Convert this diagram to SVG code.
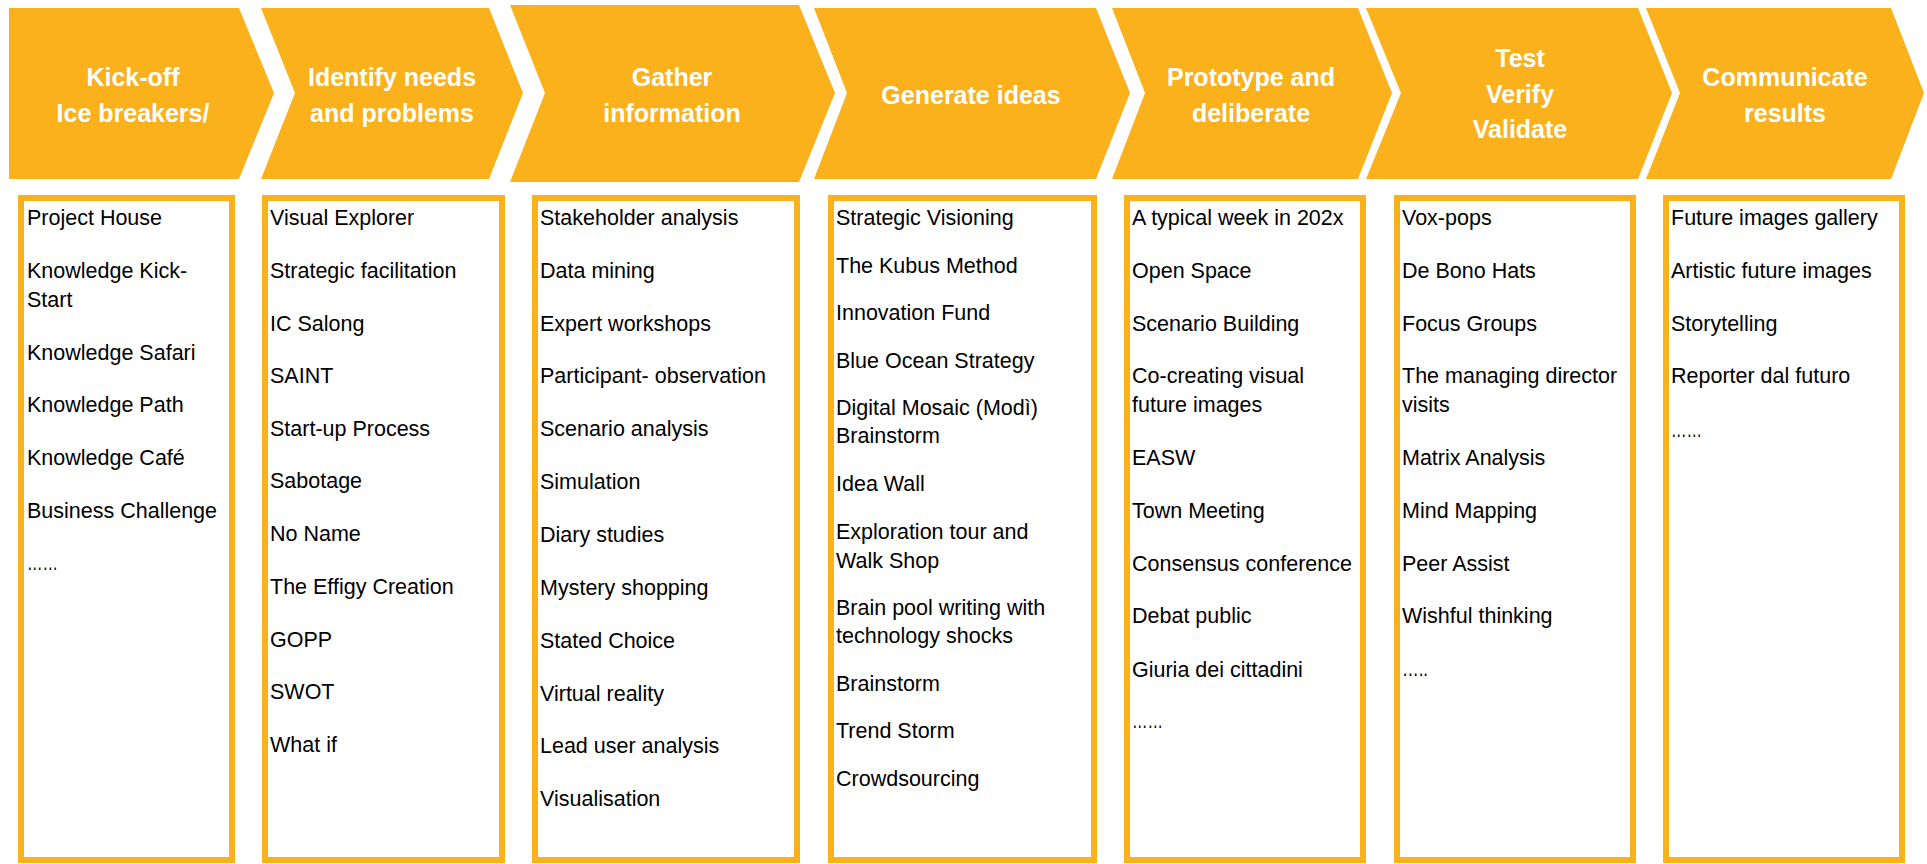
<svg xmlns="http://www.w3.org/2000/svg" width="1927" height="864" viewBox="0 0 1927 864">
<style>
.chev{fill:#FBB11B;}
.hd{font-family:"Liberation Sans",Arial,sans-serif;font-weight:bold;font-size:25px;fill:#FFFFFF;text-anchor:middle;}
.box{fill:#FFFFFF;stroke:#FBB11B;stroke-width:6;}
.it{font-family:"Liberation Sans",Arial,sans-serif;font-size:21.5px;fill:#000000;}
</style>
<rect width="1927" height="864" fill="#FFFFFF"/>
<g id="stage1">
<polygon class="chev" points="9,8 239,8 274,93 239,179 9,179"/>
<text class="hd" x="133" y="86">Kick-off</text>
<text class="hd" x="133" y="122">Ice breakers/</text>
</g>
<g id="stage2">
<polygon class="chev" points="261,8 489,8 523,93 489,179 261,179 295,93"/>
<text class="hd" x="392" y="86">Identify needs</text>
<text class="hd" x="392" y="122">and problems</text>
</g>
<g id="stage3">
<polygon class="chev" points="510,5 799,5 835,93 799,182 510,182 545,93"/>
<text class="hd" x="672" y="86">Gather</text>
<text class="hd" x="672" y="122">information</text>
</g>
<g id="stage4">
<polygon class="chev" points="814,8 1096,8 1130,93 1096,179 814,179 847,93"/>
<text class="hd" x="971" y="104">Generate ideas</text>
</g>
<g id="stage5">
<polygon class="chev" points="1112,8 1358,8 1392,93 1358,179 1112,179 1145,93"/>
<text class="hd" x="1251" y="86">Prototype and</text>
<text class="hd" x="1251" y="122">deliberate</text>
</g>
<g id="stage6">
<polygon class="chev" points="1366,8 1638,8 1672,93 1638,179 1366,179 1401,93"/>
<text class="hd" x="1520" y="67">Test</text>
<text class="hd" x="1520" y="103">Verify</text>
<text class="hd" x="1520" y="138">Validate</text>
</g>
<g id="stage7">
<polygon class="chev" points="1646,8 1891,8 1924,93 1891,179 1646,179 1680,93"/>
<text class="hd" x="1785" y="86">Communicate</text>
<text class="hd" x="1785" y="122">results</text>
</g>
<g id="list1">
<rect class="box" x="21" y="198" width="211" height="662"/>
<text class="it" x="27" y="225">Project House</text>
<text class="it" x="27" y="278">Knowledge Kick-</text>
<text class="it" x="27" y="307">Start</text>
<text class="it" x="27" y="360">Knowledge Safari</text>
<text class="it" x="27" y="412">Knowledge Path</text>
<text class="it" x="27" y="465">Knowledge Café</text>
<text class="it" x="27" y="518">Business Challenge</text>
<text class="it" x="27" y="570" textLength="31" lengthAdjust="spacingAndGlyphs">……</text>
</g>
<g id="list2">
<rect class="box" x="265" y="198" width="237" height="662"/>
<text class="it" x="270" y="225">Visual Explorer</text>
<text class="it" x="270" y="278">Strategic facilitation</text>
<text class="it" x="270" y="331">IC Salong</text>
<text class="it" x="270" y="383">SAINT</text>
<text class="it" x="270" y="436">Start-up Process</text>
<text class="it" x="270" y="488">Sabotage</text>
<text class="it" x="270" y="541">No Name</text>
<text class="it" x="270" y="594">The Effigy Creation</text>
<text class="it" x="270" y="647">GOPP</text>
<text class="it" x="270" y="699">SWOT</text>
<text class="it" x="270" y="752">What if</text>
</g>
<g id="list3">
<rect class="box" x="535" y="198" width="262" height="662"/>
<text class="it" x="540" y="225">Stakeholder analysis</text>
<text class="it" x="540" y="278">Data mining</text>
<text class="it" x="540" y="331">Expert workshops</text>
<text class="it" x="540" y="383">Participant- observation</text>
<text class="it" x="540" y="436">Scenario analysis</text>
<text class="it" x="540" y="489">Simulation</text>
<text class="it" x="540" y="542">Diary studies</text>
<text class="it" x="540" y="595">Mystery shopping</text>
<text class="it" x="540" y="648">Stated Choice</text>
<text class="it" x="540" y="701">Virtual reality</text>
<text class="it" x="540" y="753">Lead user analysis</text>
<text class="it" x="540" y="806">Visualisation</text>
</g>
<g id="list4">
<rect class="box" x="831" y="198" width="263" height="662"/>
<text class="it" x="836" y="225">Strategic Visioning</text>
<text class="it" x="836" y="273">The Kubus Method</text>
<text class="it" x="836" y="320">Innovation Fund</text>
<text class="it" x="836" y="368">Blue Ocean Strategy</text>
<text class="it" x="836" y="415">Digital Mosaic (Modì)</text>
<text class="it" x="836" y="443">Brainstorm</text>
<text class="it" x="836" y="491">Idea Wall</text>
<text class="it" x="836" y="539">Exploration tour and</text>
<text class="it" x="836" y="568">Walk Shop</text>
<text class="it" x="836" y="615">Brain pool writing with</text>
<text class="it" x="836" y="643">technology shocks</text>
<text class="it" x="836" y="691">Brainstorm</text>
<text class="it" x="836" y="738">Trend Storm</text>
<text class="it" x="836" y="786">Crowdsourcing</text>
</g>
<g id="list5">
<rect class="box" x="1127" y="198" width="236" height="662"/>
<text class="it" x="1132" y="225">A typical week in 202x</text>
<text class="it" x="1132" y="278">Open Space</text>
<text class="it" x="1132" y="331">Scenario Building</text>
<text class="it" x="1132" y="383">Co-creating visual</text>
<text class="it" x="1132" y="412">future images</text>
<text class="it" x="1132" y="465">EASW</text>
<text class="it" x="1132" y="518">Town Meeting</text>
<text class="it" x="1132" y="571">Consensus conference</text>
<text class="it" x="1132" y="623">Debat public</text>
<text class="it" x="1132" y="677">Giuria dei cittadini</text>
<text class="it" x="1132" y="728" textLength="31" lengthAdjust="spacingAndGlyphs">……</text>
</g>
<g id="list6">
<rect class="box" x="1397" y="198" width="236" height="662"/>
<text class="it" x="1402" y="225">Vox-pops</text>
<text class="it" x="1402" y="278">De Bono Hats</text>
<text class="it" x="1402" y="331">Focus Groups</text>
<text class="it" x="1402" y="383">The managing director</text>
<text class="it" x="1402" y="412">visits</text>
<text class="it" x="1402" y="465">Matrix Analysis</text>
<text class="it" x="1402" y="518">Mind Mapping</text>
<text class="it" x="1402" y="571">Peer Assist</text>
<text class="it" x="1402" y="623">Wishful thinking</text>
<text class="it" x="1402" y="676" textLength="26" lengthAdjust="spacingAndGlyphs">…..</text>
</g>
<g id="list7">
<rect class="box" x="1666" y="198" width="236" height="662"/>
<text class="it" x="1671" y="225">Future images gallery</text>
<text class="it" x="1671" y="278">Artistic future images</text>
<text class="it" x="1671" y="331">Storytelling</text>
<text class="it" x="1671" y="383">Reporter dal futuro</text>
<text class="it" x="1671" y="437" textLength="31" lengthAdjust="spacingAndGlyphs">……</text>
</g>
</svg>
